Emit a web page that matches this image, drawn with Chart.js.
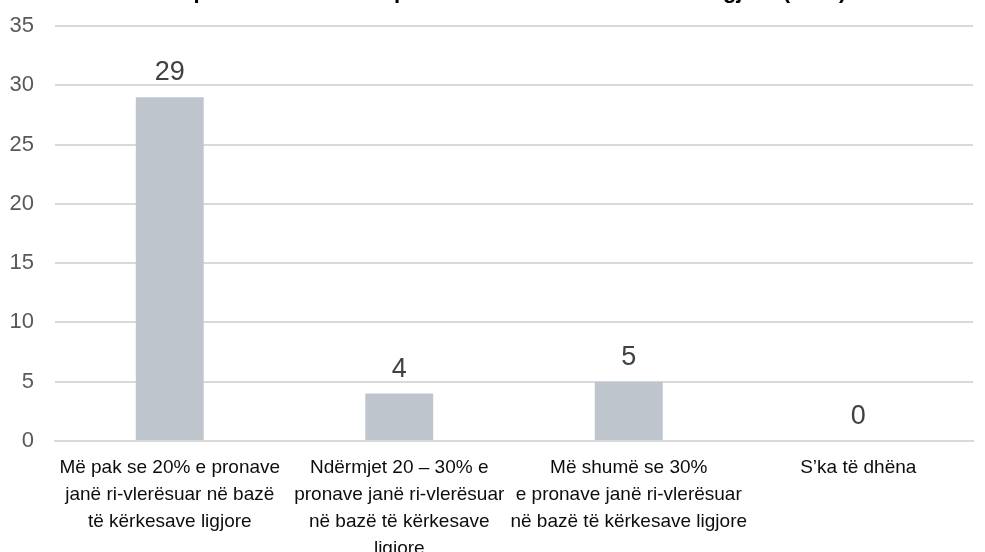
<!DOCTYPE html>
<html>
<head>
<meta charset="utf-8">
<script src="https://cdn.jsdelivr.net/npm/chart.js@4/dist/chart.umd.min.js"></script>
<style>
  html, body { margin: 0; padding: 0; background: #fff; }
  #wrap { width: 985px; height: 552px; }
</style>
</head>
<body>
<div id="wrap"><canvas id="pronatChart"></canvas></div>
<script>
const categories = [
    ["Më pak se 20% e pronave", "janë ri-vlerësuar në bazë", "të kërkesave ligjore"],
    ["Ndërmjet 20 – 30% e", "pronave janë ri-vlerësuar", "në bazë të kërkesave", "ligjore"],
    ["Më shumë se 30%", "e pronave janë ri-vlerësuar", "në bazë të kërkesave ligjore"],
    ["S’ka të dhëna"]
]
const values = [29, 4, 5, 0]
const yTicks = [0, 5, 10, 15, 20, 25, 30, 35]
const titleText = "Komunat sipas ri-vlerësimit të pronave në bazë të kërkesave ligjore (2021)"

const FONT = "'Liberation Sans', Arial, sans-serif"

// value labels above the bars, like excel data labels
const valueLabels = {
    id: "valueLabels",
    afterDatasetsDraw(chart) {
        const c = chart.ctx
        const meta = chart.getDatasetMeta(0)
        c.save()
        c.font = "27px " + FONT
        c.fillStyle = "#404040"
        c.textAlign = "center"
        c.textBaseline = "alphabetic"
        meta.data.forEach((bar, i) => {
            c.fillText(values[i], bar.x, bar.y - 17)
        })
        c.restore()
    }
}

// title sits mostly above the visible area in the source picture
const cutTitle = {
    id: "cutTitle",
    afterDraw(chart) {
        const c = chart.ctx
        c.save()
        c.font = "bold 22px " + FONT
        c.fillStyle = "#000"
        c.textAlign = "center"
        c.textBaseline = "alphabetic"
        c.fillText(titleText, 460, -2)
        c.restore()
    }
}

new Chart(document.getElementById("pronatChart"), {
    type: "bar",
    data: {
        labels: categories,
        datasets: [{
            data: values,
            backgroundColor: "#bfc5cc",
            barPercentage: 0.296,
            categoryPercentage: 1
        }]
    },
    options: {
        responsive: true,
        maintainAspectRatio: false,
        animation: false,
        layout: { padding: { top: 26, right: 12, left: 0, bottom: 0 } },
        plugins: {
            legend: { display: false },
            tooltip: { enabled: false }
        },
        scales: {
            x: {
                grid: { display: false },
                border: { color: "#d9d9d9", width: 2 },
                ticks: {
                    color: "#0d0d0d",
                    font: { family: FONT, size: 19, lineHeight: 1.42 },
                    maxRotation: 0,
                    autoSkip: false,
                    padding: 5
                },
                afterFit(axis) {
                    axis.height = 111
                }
            },
            y: {
                min: 0,
                max: 35,
                afterBuildTicks(axis) {
                    axis.ticks = yTicks.map(v => ({ value: v }))
                },
                // invisible tick marks push the labels left without extra top padding
                grid: { color: "#d9d9d9", lineWidth: 2, drawTicks: true, tickLength: 21, tickColor: "rgba(0,0,0,0)" },
                border: { display: false },
                ticks: {
                    color: "#595959",
                    font: { family: FONT, size: 22 },
                    padding: 0
                },
                afterFit(axis) {
                    axis.width = 55
                }
            }
        }
    },
    plugins: [valueLabels, cutTitle]
})
</script>
</body>
</html>
